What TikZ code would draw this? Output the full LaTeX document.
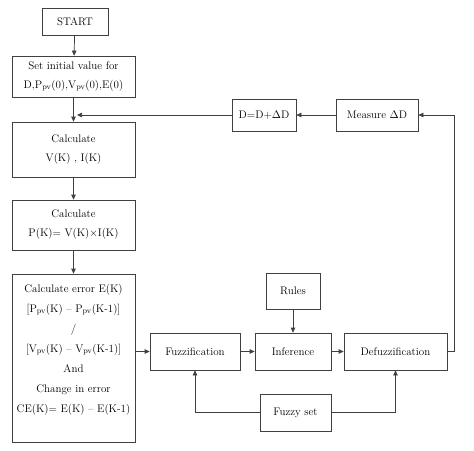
\documentclass[tikz,border=0pt]{standalone}
\usetikzlibrary{arrows.meta}

\newcommand{\pv}{\textsubscript{pv}}

\begin{document}
\begin{tikzpicture}[x=1pt, y=-1pt, >={Triangle[length=5pt,width=4.5pt]},
  box/.style={draw=black!75, line width=0.7pt, inner sep=1pt, align=center,
    font=\fontsize{11}{19}\selectfont},
  line/.style={draw=black!75, line width=0.7pt}]
  \useasboundingbox (0, 0) rectangle (474, 450);

  % left column
  \node[box, minimum width=66, minimum height=27] (start) at (75, 21.5) {START};
  \node[box, minimum width=123, minimum height=41] (init) at (73.5, 76.5)
    {Set initial value for\\D,P\pv(0),V\pv(0),E(0)};
  \node[box, minimum width=123, minimum height=55] (calcv) at (73.5, 149.5)
    {Calculate\\V(K) , I(K)};
  \node[box, minimum width=123, minimum height=50] (calcp) at (73.5, 225)
    {Calculate\\P(K)= V(K)$\times$I(K)};
  \node[box, minimum width=123, minimum height=168,
    font=\fontsize{11}{20}\selectfont] (err) at (73.5, 358)
    {Calculate error E(K)\\{}[P\pv(K) -- P\pv(K-1)]\\/\\{}[V\pv(K) -- V\pv(K-1)]\\And\\Change in error\\CE(K)= E(K) -- E(K-1)\\ \mbox{}};

  % fuzzy controller
  \node[box, minimum width=90, minimum height=37] (fuzz) at (195, 351.5) {Fuzzification};
  \node[box, minimum width=76, minimum height=37] (infer) at (293, 351.5) {Inference};
  \node[box, minimum width=103, minimum height=37] (defuzz) at (395.5, 351.5) {Defuzzification};
  \node[box, minimum width=54, minimum height=36] (rules) at (293, 291) {Rules};
  \node[box, minimum width=71, minimum height=37] (fset) at (295.5, 412.5) {Fuzzy set};

  % feedback
  \node[box, minimum width=82, minimum height=32] (meas) at (377, 115) {Measure $\Delta$D};
  \node[box, minimum width=64, minimum height=32] (dupd) at (264, 115) {D=D+$\Delta$D};
  \coordinate (join) at (77, 115);

  \draw[line, ->] (start) -- (init);
  \draw[line, ->] (init) -- (calcv);
  \draw[line, ->] (calcv) -- (calcp);
  \draw[line, ->] (calcp) -- (err);
  \draw[line, ->] (err.east |- fuzz) -- (fuzz);
  \draw[line, ->] (fuzz) -- (infer);
  \draw[line, ->] (infer) -- (defuzz);
  \draw[line, ->] (rules) -- (infer);
  \draw[line, ->] (fset.west) -| (fuzz.south);
  \draw[line, ->] (fset.east) -| (defuzz.south);
  \draw[line, ->] (defuzz.east) -- ++(7, 0) |- (meas.east);
  \draw[line, ->] (meas) -- (dupd);
  \draw[line, ->] (dupd) -- (join);
\end{tikzpicture}
\end{document}
